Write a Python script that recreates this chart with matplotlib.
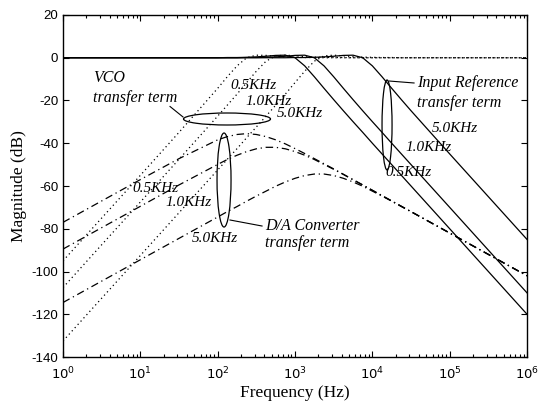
import matplotlib
matplotlib.use("Agg")
import matplotlib.pyplot as plt
from matplotlib.patches import Ellipse

plt.rcParams["mathtext.fontset"] = "custom"
plt.rcParams["mathtext.rm"] = "Liberation Sans"
plt.rcParams["axes.unicode_minus"] = False

# frequency grid (Hz), shared by all curves
freq = [1, 3.16, 10, 31.6, 100, 133, 178, 237, 316, 422, 562, 750, 1000,
        1334, 1778, 2371, 3162, 4217, 5623, 7499, 1e4, 13335, 17783, 23714,
        31623, 56234, 1e5, 316228, 1e6]

# input reference transfer term (dB)
ref_05k = [0, 0, 0, 0, 0.0, 0.1, 0.1, 0.2, 0.4, 0.7, 1.1, 1.2, 0.0, -3.8,
           -8.9, -14.3, -19.6, -24.8, -29.9, -34.9, -40.0, -45.0, -50.0,
           -55.0, -60.0, -70.0, -80.0, -100.0, -120.0]
ref_1k = [0, 0, 0, 0, 0, 0.0, 0.0, 0.1, 0.1, 0.2, 0.4, 0.7, 1.1, 1.2, 0.0,
          -3.8, -8.9, -14.3, -19.6, -24.8, -29.9, -34.9, -40.0, -45.0, -50.0,
          -60.0, -70.0, -90.0, -110.0]
ref_5k = [0, 0, 0, 0, 0, 0, 0, 0, 0, 0, 0, 0.0, 0.1, 0.1, 0.2, 0.4, 0.7,
          1.1, 1.2, 0.0, -3.8, -8.9, -14.3, -19.6, -24.8, -34.9, -45.0,
          -65.0, -85.0]

# VCO transfer term (dB)
vco_05k = [-95.0, -75.0, -55.0, -34.9, -14.3, -8.9, -3.8, 0.0, 1.2, 1.1,
           0.7, 0.4, 0.2, 0.1, 0.1, 0.0, 0, 0, 0, 0, 0, 0, 0, 0, 0, 0, 0,
           0, 0]
vco_1k = [-107.5, -87.5, -67.5, -47.5, -27.3, -22.2, -17.0, -11.6, -6.3,
          -1.6, 0.9, 1.2, 0.9, 0.5, 0.3, 0.2, 0.1, 0.1, 0.0, 0, 0, 0, 0, 0,
          0, 0, 0, 0, 0]
vco_5k = [-132.5, -112.5, -92.5, -72.5, -52.5, -47.5, -42.5, -37.4, -32.4,
          -27.3, -22.2, -17.0, -11.6, -6.3, -1.6, 0.9, 1.2, 0.9, 0.5, 0.3,
          0.2, 0.1, 0.1, 0.0, 0, 0, 0, 0, 0]

# D/A converter transfer term (dB)
da_05k = [-77.0, -67.0, -57.0, -47.2, -38.4, -36.9, -35.9, -35.5, -35.9,
          -36.9, -38.4, -40.3, -42.5, -44.8, -47.2, -49.6, -52.0, -54.5,
          -57.0, -59.5, -62.0, -64.5, -67.0, -69.5, -72.0, -77.0, -82.0,
          -92.0, -102.0]
da_1k = [-89.5, -79.5, -69.5, -59.5, -49.9, -47.6, -45.6, -43.9, -42.6,
         -41.9, -41.9, -42.6, -43.9, -45.6, -47.6, -49.9, -52.2, -54.6,
         -57.1, -59.5, -62.0, -64.5, -67.0, -69.5, -72.0, -77.0, -82.0,
         -92.0, -102.0]
da_5k = [-114.5, -104.5, -94.5, -84.5, -74.5, -72.0, -69.6, -67.1, -64.7,
         -62.4, -60.1, -58.1, -56.4, -55.1, -54.4, -54.4, -55.1, -56.4,
         -58.1, -60.1, -62.4, -64.7, -67.1, -69.6, -72.0, -77.0, -82.0,
         -92.0, -102.0]

fig = plt.figure(figsize=(5.4, 4.03), dpi=100)
ax = fig.add_axes([0.1167, 0.1141, 0.8593, 0.8487])

for y in (ref_05k, ref_1k, ref_5k):
    ax.semilogx(freq, y, color="black", lw=0.9, ls="-")
for y in (vco_05k, vco_1k, vco_5k):
    ax.semilogx(freq, y, color="black", lw=0.9, ls=(0, (1, 2.5)))
for y in (da_05k, da_1k, da_5k):
    ax.semilogx(freq, y, color="black", lw=0.9, ls=(0, (6, 3, 1, 3)))

ax.set_xlim(1, 1e6)
ax.set_ylim(-140, 20)
ax.set_yticks(range(-140, 21, 20))
ax.set_xticks([10 ** k for k in range(7)])
ax.set_xticklabels([r"$\mathregular{10^{%d}}$" % k for k in range(7)])
ax.tick_params(which="both", direction="in", top=True, right=True,
               labelsize=9.5, width=0.8)
ax.tick_params(which="major", length=4)
ax.tick_params(which="minor", length=2)
ax.tick_params(axis="x", pad=6)
for lab in ax.get_yticklabels():
    lab.set_family("Liberation Sans")
for sp in ax.spines.values():
    sp.set_linewidth(1.0)

ax.set_xlabel("Frequency (Hz)", family="Liberation Serif", fontsize=12.5,
              labelpad=2)
ax.set_ylabel("Magnitude (dB)", family="Liberation Serif", fontsize=12.5,
              labelpad=3)

note = dict(family="Liberation Serif", style="italic", fontsize=11.5,
            ha="left", va="center")
khz = dict(note, fontsize=11)

# VCO group
ax.text(2.44, -9.5, "VCO", **note)
ax.text(2.44, -18.9, "transfer term", **note)
ax.text(145, -12.8, "0.5KHz", **khz)
ax.text(226, -20.7, "1.0KHz", **khz)
ax.text(587, -25.9, "5.0KHz", **khz)
ax.add_patch(Ellipse((0.3534, 0.6959), 0.1875, 0.0351, transform=ax.transAxes,
                     fill=False, lw=0.9, color="black"))
ax.plot([0.2306, 0.2586], [0.7325, 0.7018], transform=ax.transAxes,
        color="black", lw=0.8)

# D/A converter group
ax.text(7.8, -61.0, "0.5KHz", **khz)
ax.text(20.9, -67.5, "1.0KHz", **khz)
ax.text(46.7, -84.4, "5.0KHz", **khz)
ax.text(410, -78.7, "D/A Converter", **note)
ax.text(410, -86.7, "transfer term", **note)
ax.add_patch(Ellipse((0.347, 0.5175), 0.0302, 0.2749, transform=ax.transAxes,
                     fill=False, lw=0.9, color="black"))
ax.plot([0.3599, 0.4289], [0.4006, 0.383], transform=ax.transAxes,
        color="black", lw=0.8)

# input reference group
ax.text(38000, -11.8, "Input Reference", **note)
ax.text(38000, -21.2, "transfer term", **note)
ax.text(59400, -32.9, "5.0KHz", **khz)
ax.text(26500, -42.2, "1.0KHz", **khz)
ax.text(14650, -53.5, "0.5KHz", **khz)
ax.add_patch(Ellipse((0.6983, 0.6784), 0.0216, 0.263, transform=ax.transAxes,
                     fill=False, lw=0.9, color="black"))
ax.plot([0.7026, 0.7565], [0.807, 0.8012], transform=ax.transAxes,
        color="black", lw=0.8)

fig.savefig("out.png", dpi=100)
